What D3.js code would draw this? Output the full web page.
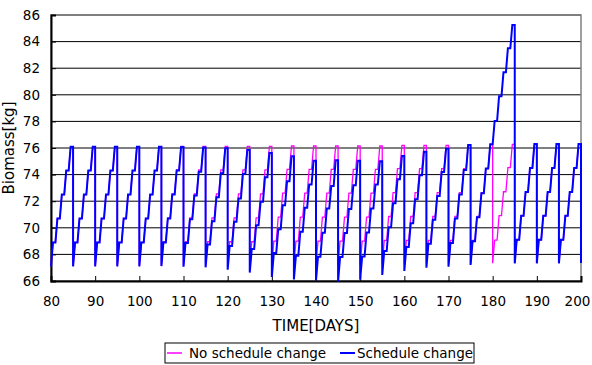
<!DOCTYPE html>
<html>
<head>
<meta charset="utf-8">
<script src="https://cdn.jsdelivr.net/npm/d3@7"></script>
<style>
  body { margin: 0; background: #fff; }
  text { font-family: "DejaVu Sans", sans-serif; fill: #000; }
</style>
</head>
<body>
<svg id="chart" width="592" height="365"></svg>
<script>
// start day of each 5-day cycle
const cycleStarts = [80, 85, 90, 95, 100, 105, 110, 115, 120, 125, 130, 135, 140, 145, 150, 155, 160, 165, 170, 175, 180, 185, 190, 195];

// levels per cycle: [start, step1, step2, step3, step4, top] (kg)
const noChangeLevels = [
  [67.1, 68.9, 70.7, 72.5, 74.3, 76.1],
  [67.1, 68.9, 70.7, 72.5, 74.3, 76.1],
  [67.1, 68.9, 70.7, 72.5, 74.3, 76.1],
  [67.1, 68.9, 70.7, 72.5, 74.3, 76.1],
  [67.1, 68.9, 70.7, 72.5, 74.3, 76.1],
  [67.15, 68.95, 70.75, 72.55, 74.35, 76.12],
  [67.15, 68.95, 70.75, 72.55, 74.35, 76.12],
  [67.15, 68.95, 70.75, 72.55, 74.35, 76.12],
  [67.15, 68.95, 70.75, 72.55, 74.35, 76.12],
  [67.15, 68.95, 70.75, 72.55, 74.35, 76.12],
  [67.2, 69.0, 70.8, 72.6, 74.4, 76.15],
  [67.2, 69.0, 70.8, 72.6, 74.4, 76.15],
  [67.2, 69.0, 70.8, 72.6, 74.4, 76.15],
  [67.2, 69.0, 70.8, 72.6, 74.4, 76.15],
  [67.2, 69.0, 70.8, 72.6, 74.4, 76.15],
  [67.25, 69.05, 70.85, 72.65, 74.45, 76.2],
  [67.25, 69.05, 70.85, 72.65, 74.45, 76.2],
  [67.25, 69.05, 70.85, 72.65, 74.45, 76.2],
  [67.25, 69.05, 70.85, 72.65, 74.45, 76.22],
  [67.28, 69.05, 70.85, 72.65, 74.45, 76.25],
  [67.33, 69.08, 70.91, 72.71, 74.52, 76.28],
  [67.33, 69.1, 70.9, 72.7, 74.5, 76.3],
  [67.33, 69.1, 70.9, 72.7, 74.5, 76.3],
  [67.33, 69.1, 70.9, 72.7, 74.5, 76.3]
];
const changeLevels = [
  [67.1, 68.9, 70.7, 72.5, 74.3, 76.1],
  [67.1, 68.9, 70.7, 72.5, 74.3, 76.1],
  [67.1, 68.9, 70.7, 72.5, 74.3, 76.1],
  [67.1, 68.9, 70.7, 72.5, 74.3, 76.1],
  [67.1, 68.9, 70.7, 72.5, 74.3, 76.1],
  [67.12, 68.9, 70.7, 72.5, 74.3, 76.08],
  [67.08, 68.85, 70.65, 72.43, 74.22, 76.03],
  [67.03, 68.75, 70.5, 72.3, 74.1, 75.98],
  [66.85, 68.63, 70.45, 72.2, 74.05, 75.85],
  [66.63, 68.4, 70.2, 71.95, 73.8, 75.63],
  [66.3, 68.1, 69.9, 71.7, 73.5, 75.38],
  [66.12, 67.9, 69.7, 71.5, 73.25, 75.05],
  [66.05, 67.83, 69.63, 71.46, 73.14, 75.08],
  [65.95, 67.8, 69.6, 71.42, 73.2, 75.05],
  [66.1, 67.85, 69.65, 71.45, 73.25, 75.0],
  [66.45, 68.25, 70.05, 71.85, 73.65, 75.4],
  [66.75, 68.55, 70.35, 72.15, 73.95, 75.72],
  [67.0, 68.8, 70.6, 72.4, 74.2, 75.95],
  [67.08, 68.85, 70.7, 72.5, 74.35, 76.22],
  [67.2, 68.98, 70.8, 72.6, 74.45, 76.28],
  [76.28, 78.03, 79.9, 81.7, 83.5, 85.25],
  [67.33, 69.1, 70.9, 72.7, 74.5, 76.3],
  [67.33, 69.1, 70.9, 72.7, 74.5, 76.3],
  [67.33, 69.1, 70.9, 72.7, 74.5, 76.3]
];
const endValue = 67.35; // drop at day 200

const xTicks = [80, 90, 100, 110, 120, 130, 140, 150, 160, 170, 180, 190, 200];
const yTicks = [66, 68, 70, 72, 74, 76, 78, 80, 82, 84, 86];

const margin = {left: 51, right: 11, top: 15, bottom: 84};
const W = 592, H = 365;
const svg = d3.select("#chart");

const x = d3.scaleLinear().domain([80, 200]).range([margin.left, W - margin.right]);
const y = d3.scaleLinear().domain([66, 86]).range([H - margin.bottom, margin.top]);

// each cycle: rise (~0.45 day) then hold until next day
const stepOffsets = [[0, 0], [0.45, 1], [1, 1], [1.45, 2], [2, 2], [2.45, 3], [3, 3], [3.45, 4], [4, 4], [4.45, 5], [5, 5]];
function buildSeries(levels) {
  let pts = [];
  levels.forEach((lv, i) => {
    stepOffsets.forEach(([dt, k]) => pts.push([cycleStarts[i] + dt, lv[k]]));
  });
  pts.push([200, endValue]);
  return pts;
}

// gridlines
svg.append("g").selectAll("line")
  .data(yTicks)
  .join("line")
  .attr("x1", x(80)).attr("x2", x(200))
  .attr("y1", d => y(d)).attr("y2", d => y(d))
  .attr("stroke", "#000").attr("stroke-width", 1);

// plot frame
svg.append("rect")
  .attr("x", x(80)).attr("y", y(86))
  .attr("width", x(200) - x(80)).attr("height", y(66) - y(86))
  .attr("fill", "none").attr("stroke", "#808080").attr("stroke-width", 1.5);

// axes
const xAxis = svg.append("g")
  .attr("transform", `translate(0,${y(66)})`)
  .call(d3.axisBottom(x).tickValues(xTicks).tickSize(-5).tickPadding(15));
const yAxis = svg.append("g")
  .attr("transform", `translate(${x(80)},0)`)
  .call(d3.axisLeft(y).tickValues(yTicks).tickSize(-5).tickPadding(11));
[xAxis, yAxis].forEach(g => {
  g.select(".domain").attr("stroke", "#000").attr("stroke-width", 2);
  g.selectAll(".tick line").attr("stroke", "#000").attr("stroke-width", 1);
  g.selectAll(".tick text").attr("font-size", 13.5).attr("font-family", "DejaVu Sans");
});
// keep the last x label inside the picture
xAxis.selectAll(".tick text").filter(d => d === 200).attr("dx", -4);

const line = d3.line().x(d => x(d[0])).y(d => y(d[1]));

svg.append("path")
  .datum(buildSeries(noChangeLevels))
  .attr("d", line)
  .attr("fill", "none").attr("stroke", "#ff00ff").attr("stroke-width", 1.3);

svg.append("path")
  .datum(buildSeries(changeLevels))
  .attr("d", line)
  .attr("fill", "none").attr("stroke", "#0000ff").attr("stroke-width", 2)
  .attr("stroke-linejoin", "miter");

// axis titles
svg.append("text")
  .attr("x", x(140)).attr("y", 331)
  .attr("text-anchor", "middle").attr("font-size", 15)
  .text("TIME[DAYS]");
svg.append("text")
  .attr("transform", `translate(14,${y(76)}) rotate(-90)`)
  .attr("text-anchor", "middle").attr("font-size", 15)
  .text("Biomass[kg]");

// legend
const legend = svg.append("g").attr("transform", "translate(165,343)");
legend.append("rect")
  .attr("width", 309).attr("height", 20)
  .attr("fill", "#fff").attr("stroke", "#000").attr("stroke-width", 1);
const items = [
  {label: "No schedule change", color: "#ff00ff", x0: 2, tx: 24},
  {label: "Schedule change", color: "#0000ff", x0: 175, tx: 192}
];
items.forEach(it => {
  legend.append("line")
    .attr("x1", it.x0).attr("x2", it.x0 + 15)
    .attr("y1", 10).attr("y2", 10)
    .attr("stroke", it.color).attr("stroke-width", it.color === "#0000ff" ? 2 : 1.5);
  legend.append("text")
    .attr("x", it.tx).attr("y", 15)
    .attr("font-size", 13.5)
    .text(it.label);
});
</script>
</body>
</html>
